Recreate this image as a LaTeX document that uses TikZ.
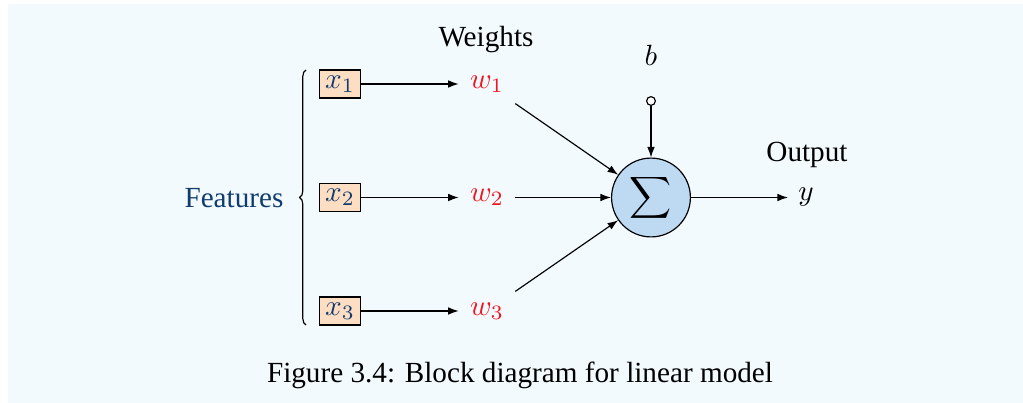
\documentclass[tikz,border=0pt]{standalone}
\usepackage[no-math]{fontspec}
\setmainfont{Liberation Serif}
\usetikzlibrary{arrows.meta,decorations.pathreplacing}
\definecolor{bgc}{RGB}{243,250,253}
\definecolor{featc}{RGB}{16,60,112}
\definecolor{boxc}{RGB}{253,222,195}
\definecolor{sumc}{RGB}{190,218,243}
\definecolor{wc}{RGB}{240,20,30}
\tikzset{
  arr/.style={-{Latex[length=3.6pt,width=2.6pt]}, line width=0.4pt},
  xbox/.style={draw, fill=boxc, text=featc, minimum width=14pt, minimum height=9.6pt, inner sep=1pt, line width=0.4pt},
  wnode/.style={text=wc, minimum width=19pt, minimum height=14pt, inner sep=0pt},
  sumnode/.style={draw, circle, fill=sumc, minimum size=27pt, inner sep=0pt, line width=0.4pt},
  biasnode/.style={draw, circle, fill=white, minimum size=3pt, inner sep=0pt, line width=0.4pt},
  lbl/.style={inner sep=0pt}
}
\begin{document}
\begin{tikzpicture}[x=0.3425pt, y=-0.3425pt]
\useasboundingbox (0,0) rectangle (1023,403);
\fill[bgc] (8,4) rectangle (1023,403);
\node[lbl, text=featc] (feat) at (234,198) {Features};
\node[xbox] (x1) at (340,84) {$x_1$};
\node[xbox] (x2) at (340,197.5) {$x_2$};
\node[xbox] (x3) at (340,311) {$x_3$};
\coordinate (bb) at (306,325);
\coordinate (bt) at (306,70);
\draw[decorate, decoration={brace, amplitude=2.2pt}, line width=0.4pt] (bb) -- (bt);
\node[wnode] (w1) at (487,84) {$w_1$};
\node[wnode] (w2) at (487,197.5) {$w_2$};
\node[wnode] (w3) at (487,311) {$w_3$};
\node[lbl] (wt) at (486,40) {Weights};
\node[sumnode] (sum) at (651,197.5) {$\displaystyle\sum$};
\node[lbl] (b) at (651,55) {$b$};
\node[biasnode] (bc) at (651,101) {};
\node (y) at (806,197.5) {$y$};
\node[lbl] (out) at (807,155) {Output};
\node[lbl] (cap) at (520,375) {Figure 3.4: Block diagram for linear model};
\draw[arr] (x1) -- (w1);
\draw[arr] (x2) -- (w2);
\draw[arr] (x3) -- (w3);
\draw[arr] (w1) -- (sum);
\draw[arr] (w2) -- (sum);
\draw[arr] (w3) -- (sum);
\draw[arr] (bc) -- (sum);
\draw[arr] (sum) -- (y);
\end{tikzpicture}
\end{document}
